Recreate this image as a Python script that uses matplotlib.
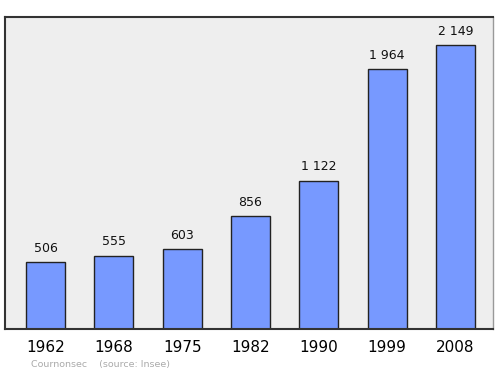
import matplotlib.pyplot as plt

years = ['1962', '1968', '1975', '1982', '1990', '1999', '2008']
population = [506, 555, 603, 856, 1122, 1964, 2149]
value_labels = ['506', '555', '603', '856', '1 122', '1 964', '2 149']

fig = plt.figure(figsize=(5, 3.74), dpi=100)
ax = fig.add_axes([0.01, 0.1203, 0.976, 0.8342])
ax.set_facecolor('#eeeeee')

x = range(len(years))
ax.bar(x, population, width=0.57, color='#7799ff', edgecolor='#222222', linewidth=1.0, zorder=2)

for xi, v, lab in zip(x, population, value_labels):
    ax.text(xi, v + 55, lab, ha='center', va='bottom', fontsize=9, color='#111111')

ax.set_xlim(-0.593, 6.55)
ax.set_ylim(0, 2361)
ax.set_yticks([])
ax.set_xticks(list(x))
ax.set_xticklabels(years, fontsize=11)
ax.tick_params(axis='x', length=0, pad=8)

for side in ['left', 'bottom', 'top']:
    ax.spines[side].set_color('#333333')
    ax.spines[side].set_linewidth(1.5)
ax.spines['right'].set_color('#999999')
ax.spines['right'].set_linewidth(1.0)

fig.text(31 / 500, 1 - 365 / 374, 'Cournonsec    (source: Insee)', fontsize=6.8,
         color='#aaaaaa', ha='left', va='center')

fig.savefig('out.png', dpi=100)
